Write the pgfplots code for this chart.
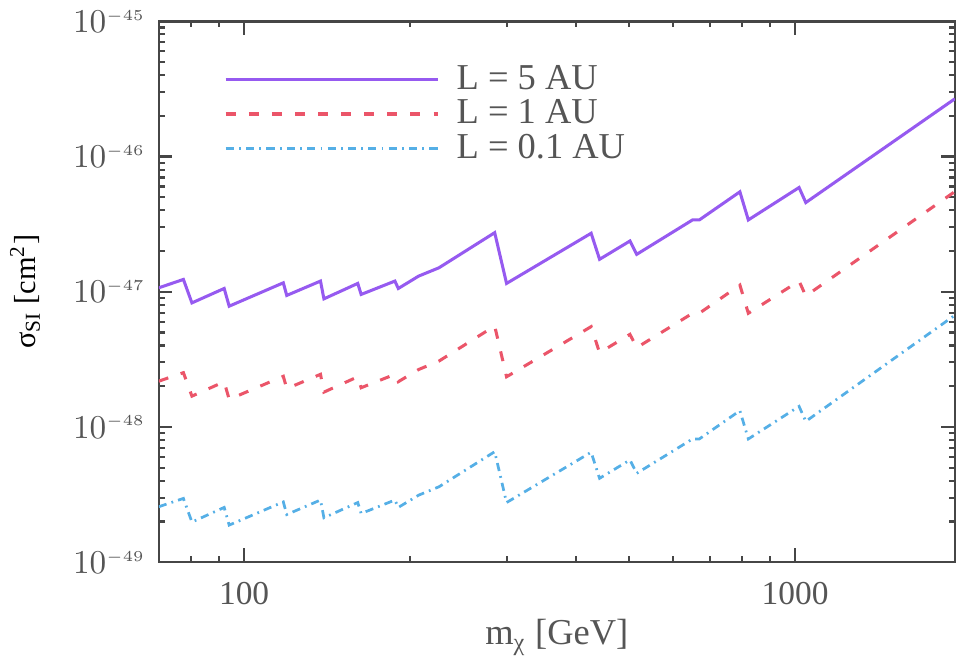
\documentclass[border=0pt]{standalone}
\usepackage{pgfplots}
\pgfplotsset{compat=1.18}
\usepackage{fontspec}
\setmainfont{Liberation Serif}
\definecolor{cpurple}{RGB}{150,90,240}
\definecolor{cred}{RGB}{235,85,105}
\definecolor{cblue}{RGB}{85,175,230}
\definecolor{axgray}{RGB}{70,70,70}
\definecolor{txtgray}{RGB}{85,85,85}

\pgfplotstableread{
m sig
70 1.069e-47
77.6 1.233e-47
80.4 8.27e-48
92.0 1.057e-47
93.95 7.82e-48
117.8 1.164e-47
119.5 9.39e-48
137.6 1.199e-47
139.6 8.86e-48
160.8 1.152e-47
163.1 9.55e-48
187.8 1.199e-47
190.5 1.057e-47
207.4 1.305e-47
225.8 1.504e-47
285.0 2.735e-47
299.5 1.152e-47
426.5 2.707e-47
441.8 1.737e-47
501.6 2.373e-47
516.0 1.891e-47
651.6 3.397e-47
670.4 3.397e-47
794.3 5.482e-47
822.7 3.397e-47
1017 5.90e-47
1046 4.565e-47
1950 2.671e-46
}\fiveau

\pgfplotstableread{
m sig
70 2.18e-48
77.6 2.52e-48
80.4 1.69e-48
92.0 2.16e-48
93.95 1.60e-48
117.8 2.37e-48
119.5 1.92e-48
137.6 2.45e-48
139.6 1.81e-48
160.8 2.35e-48
163.1 1.95e-48
187.8 2.45e-48
190.5 2.16e-48
207.4 2.66e-48
225.8 3.07e-48
285.0 5.58e-48
299.5 2.35e-48
426.5 5.52e-48
441.8 3.54e-48
501.6 4.84e-48
516.0 3.86e-48
651.6 6.93e-48
670.4 6.93e-48
794.3 1.12e-47
822.7 6.93e-48
1017 1.20e-47
1046 9.31e-48
1950 5.50e-47
}\oneau

\pgfplotstableread{
m sig
70 2.57e-49
77.6 2.96e-49
80.4 1.98e-49
92.0 2.54e-49
93.95 1.88e-49
117.8 2.79e-49
119.5 2.25e-49
137.6 2.88e-49
139.6 2.13e-49
160.8 2.76e-49
163.1 2.29e-49
187.8 2.88e-49
190.5 2.54e-49
207.4 3.13e-49
225.8 3.61e-49
285.0 6.56e-49
299.5 2.76e-49
426.5 6.50e-49
441.8 4.17e-49
501.6 5.70e-49
516.0 4.54e-49
651.6 8.15e-49
670.4 8.15e-49
794.3 1.32e-48
822.7 8.15e-49
1017 1.42e-48
1046 1.10e-48
1950 6.70e-48
}\pointoneau

\begin{document}
\begin{tikzpicture}
\begin{loglogaxis}[
  scale only axis,
  width=262pt, height=178pt,
  xmin=70, xmax=1950,
  ymin=1e-49, ymax=1e-45,
  xtick={100,1000},
  xticklabels={100,1000},
  minor xtick={80,90,200,300,400,500,600,700,800,900},
  ytick={1e-49,1e-48,1e-47,1e-46,1e-45},
  yticklabels={$10^{\scriptscriptstyle -49}$,$10^{\scriptscriptstyle -48}$,$10^{\scriptscriptstyle -47}$,$10^{\scriptscriptstyle -46}$,$10^{\scriptscriptstyle -45}$},
  minor ytick={},
  tick pos=both,
  tick align=inside,
  major tick length=4.5pt,
  minor tick length=2pt,
  axis line style={axgray, line width=0.8pt},
  every tick/.style={axgray, line width=0.7pt},
  tick label style={text=txtgray},
  xticklabel style={font=\fontsize{11}{12}\selectfont, yshift=-3pt},
  yticklabel style={font=\fontsize{11}{12}\selectfont, xshift=-1pt},
  xlabel={m\textsubscript{χ} [GeV]},
  ylabel={σ\textsubscript{SI} [cm\textsuperscript{2}]},
  label style={text=txtgray, font=\fontsize{12}{14}\selectfont},
  xlabel style={yshift=2pt},
  every axis y label/.style={at={(rel axis cs:0,0.5)}, xshift=-44pt, rotate=90, anchor=center},
  legend style={draw=none, fill=none, at={(rel axis cs:0.07,0.94)}, anchor=north west,
     font=\fontsize{12}{13}\selectfont, text=txtgray, row sep=-1pt,
     nodes={inner sep=1.5pt},
     /tikz/every odd column/.append style={column sep=4pt}},
  legend cell align=left,
  legend image code/.code={\draw[#1] (0pt,0pt) -- (70pt,0pt);},
]
\addplot[cpurple, line width=1pt] table[x=m,y=sig]{\fiveau};
\addlegendentry{L = 5 AU}
\addplot[cred, line width=1pt, dash pattern=on 3.3pt off 4.3pt] table[x=m,y=sig]{\oneau};
\addlegendentry{L = 1 AU}
\addplot[cblue, line width=0.9pt, dash pattern=on 2.7pt off 1.7pt on 0.6pt off 1.7pt] table[x=m,y=sig]{\pointoneau};
\addlegendentry{L = 0.1 AU}
\end{loglogaxis}
\end{tikzpicture}
\end{document}
